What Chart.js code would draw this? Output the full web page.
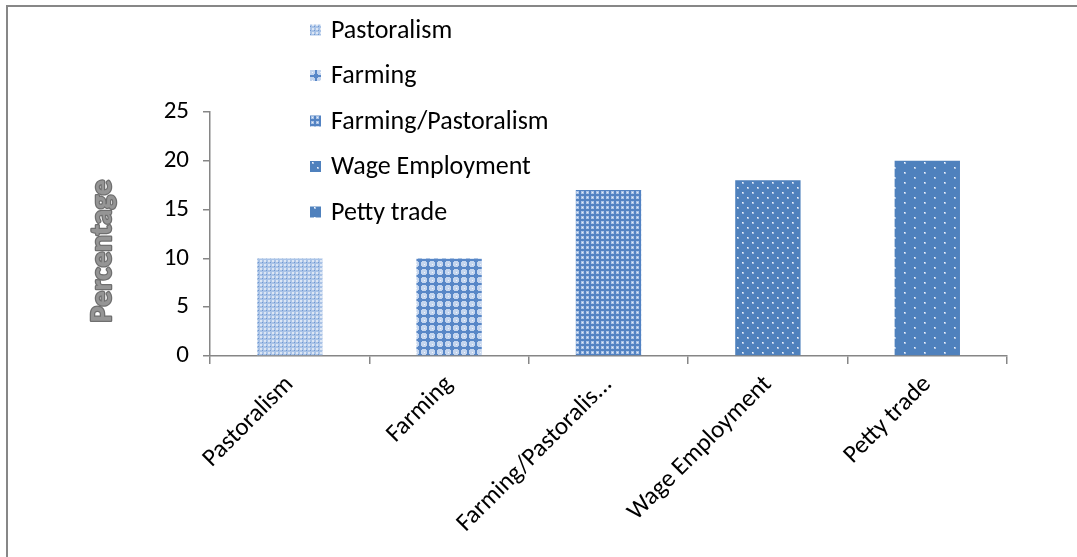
<!DOCTYPE html>
<html>
<head>
<meta charset="utf-8">
<script src="https://cdn.jsdelivr.net/npm/chart.js@4/dist/chart.umd.min.js"></script>
<style>
  html, body { margin: 0; padding: 0; background: #ffffff; }
  #wrap { width: 1077px; height: 557px; position: relative; }
</style>
</head>
<body>
<div id="wrap"><canvas id="chart" width="1077" height="557"></canvas></div>
<script>
// Livelihood categories and their share of respondents (%)
const categories = ['Pastoralism', 'Farming', 'Farming/Pastoralism', 'Wage Employment', 'Petty trade'];
const percentages = [10, 10, 17, 18, 20];
const yTickValues = [0, 5, 10, 15, 20, 25];
const yAxisTitle = 'Percentage';

const FONT = 'Carlito, Calibri, Lato, "Noto Sans", sans-serif';
const AXIS_GREY = '#868686';

const canvas = document.getElementById('chart');
const ctx = canvas.getContext('2d');

// Small repeating tiles used as bar fills
function tile(w, h, paint) {
  const c = document.createElement('canvas');
  c.width = w; c.height = h;
  paint(c.getContext('2d'));
  return ctx.createPattern(c, 'repeat');
}

const fills = [
  // fine light checker
  tile(4, 4, g => {
    g.fillStyle = '#a9c3e7'; g.fillRect(0, 0, 4, 4);
    g.fillStyle = '#dce6f4'; g.fillRect(0, 0, 2, 2);
    g.fillStyle = '#6f97d0'; g.fillRect(2, 2, 1, 1);
  }),
  // blue crosses with light diamond gaps
  tile(8, 8, g => {
    g.fillStyle = '#c4d5ee'; g.fillRect(0, 0, 8, 8);
    g.fillStyle = '#5887c7';
    g.fillRect(3, 0, 2, 8); g.fillRect(0, 3, 8, 2);
    g.fillRect(2, 2, 4, 4);
    g.fillStyle = '#f1f5fb'; g.fillRect(0, 0, 1, 1);
  }),
  // small light squares on blue
  tile(5, 5, g => {
    g.fillStyle = '#5383c3'; g.fillRect(0, 0, 5, 5);
    g.fillStyle = '#a9c2e6'; g.fillRect(1, 1, 3, 3);
    g.fillStyle = '#e6edf8'; g.fillRect(2, 2, 1, 1);
  }),
  // staggered white dots, dense
  tile(10, 10, g => {
    g.fillStyle = '#4f81bd'; g.fillRect(0, 0, 10, 10);
    g.fillStyle = '#a9c2e4'; g.fillRect(2, 2, 2, 2); g.fillRect(7, 7, 2, 2);
    g.fillStyle = '#f3f6fb'; g.fillRect(2, 2, 1, 1); g.fillRect(7, 7, 1, 1);
  }),
  // staggered white dots, sparse
  tile(20, 10, g => {
    g.fillStyle = '#4f81bd'; g.fillRect(0, 0, 20, 10);
    g.fillStyle = '#a9c2e4'; g.fillRect(4, 2, 2, 2); g.fillRect(14, 7, 2, 2);
    g.fillStyle = '#f3f6fb'; g.fillRect(4, 2, 1, 1); g.fillRect(14, 7, 1, 1);
  })
];

// Outer frame of the figure
const framePlugin = {
  id: 'frame',
  beforeDraw(chart) {
    const c = chart.ctx;
    c.save();
    c.strokeStyle = '#878787';
    c.lineWidth = 2;
    c.beginPath();
    c.moveTo(7, chart.height);
    c.lineTo(7, 6);
    c.lineTo(chart.width, 6);
    c.stroke();
    c.restore();
  }
};

// Vertical legend listing each category with its fill
const legendPlugin = {
  id: 'stackedLegend',
  afterDraw(chart, args, opts) {
    const c = chart.ctx;
    const fillsUsed = chart.data.datasets[0].backgroundColor;
    c.save();
    c.font = `${opts.fontSize}px ${FONT}`;
    c.textBaseline = 'middle';
    c.textAlign = 'left';
    chart.data.labels.forEach((label, i) => {
      const y = opts.y + i * opts.gap;
      c.fillStyle = fillsUsed[i];
      c.fillRect(opts.x, y - opts.box / 2, opts.box, opts.box);
      c.fillStyle = '#000000';
      c.fillText(label, opts.x + opts.box + 10, y + 1);
    });
    c.restore();
  }
};

// Rotated, outlined y-axis title
const yTitlePlugin = {
  id: 'yTitle',
  afterDraw(chart, args, opts) {
    const c = chart.ctx;
    c.save();
    c.translate(opts.x, opts.y);
    c.rotate(-Math.PI / 2);
    c.font = `bold ${opts.fontSize}px ${FONT}`;
    c.textAlign = 'center';
    c.textBaseline = 'middle';
    c.lineJoin = 'round';
    c.strokeStyle = '#6f6f6f';
    c.lineWidth = 2.5;
    c.strokeText(opts.text, 0, 0);
    c.fillStyle = '#959595';
    c.fillText(opts.text, 0, 0);
    c.restore();
  }
};

new Chart(ctx, {
  type: 'bar',
  data: {
    labels: categories,
    datasets: [{
      label: yAxisTitle,
      data: percentages,
      backgroundColor: fills,
      borderWidth: 0,
      barPercentage: 0.41,
      categoryPercentage: 1.0
    }]
  },
  options: {
    responsive: false,
    devicePixelRatio: 1,
    animation: false,
    layout: { padding: { top: 112, right: 70, bottom: 0, left: 0 } },
    plugins: {
      legend: { display: false },
      tooltip: { enabled: false },
      stackedLegend: { x: 310, y: 30, gap: 45.5, box: 11, fontSize: 26 },
      yTitle: { text: yAxisTitle, x: 103, y: 251, fontSize: 31 }
    },
    scales: {
      x: {
        offset: true,
        grid: { offset: true, drawOnChartArea: false, color: AXIS_GREY, lineWidth: 1.5, tickLength: 8 },
        border: { color: AXIS_GREY, width: 1.5 },
        ticks: {
          autoSkip: false,
          minRotation: 45,
          maxRotation: 45,
          padding: 6,
          color: '#000000',
          font: { family: FONT, size: 25 },
          callback: function (value) {
            const s = this.getLabelForValue(value);
            return s.length > 18 ? s.slice(0, 18) + '...' : s;
          }
        },
        afterFit(scale) { scale.height = 201; }
      },
      y: {
        min: yTickValues[0],
        max: yTickValues[yTickValues.length - 1],
        grid: { drawOnChartArea: false, color: AXIS_GREY, lineWidth: 1.5, tickLength: 7 },
        border: { color: AXIS_GREY, width: 1.5 },
        ticks: {
          padding: 14,
          color: '#000000',
          font: { family: FONT, size: 25 }
        },
        afterBuildTicks(scale) { scale.ticks = yTickValues.map(v => ({ value: v })); },
        afterFit(scale) { scale.width = 210; }
      }
    }
  },
  plugins: [framePlugin, legendPlugin, yTitlePlugin]
});
</script>
</body>
</html>
